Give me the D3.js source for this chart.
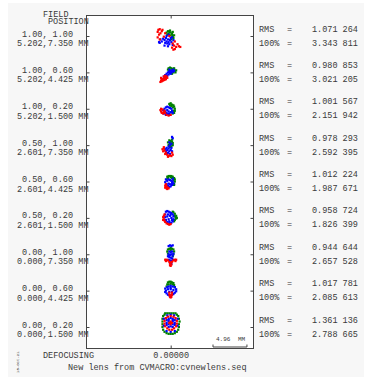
<!DOCTYPE html>
<html>
<head>
<meta charset="utf-8">
<script src="https://cdn.jsdelivr.net/npm/d3@7"></script>
<style>
  body { margin: 0; background: #fff; }
  text { font-family: "Liberation Mono", "DejaVu Sans Mono", monospace; fill: #3a3a3a; }
</style>
</head>
<body>
<div id="spot"></div>
<script>
// field rows (relative field, field in mm) and the spot statistics
var fieldRel = ["1.00, 1.00", "1.00, 0.60", "1.00, 0.20",
                "0.50, 1.00", "0.50, 0.60", "0.50, 0.20",
                "0.00, 1.00", "0.00, 0.60", "0.00, 0.20"];
var fieldMM = ["5.202,7.350", "5.202,4.425", "5.202,1.500",
               "2.601,7.350", "2.601,4.425", "2.601,1.500",
               "0.000,7.350", "0.000,4.425", "0.000,1.500"];
var rmsVals = [1.071264, 0.980853, 1.001567, 0.978293, 1.012224, 0.958724, 0.944644, 1.017781, 1.361136];
var pct100Vals = [3.343811, 3.021205, 2.151942, 2.592395, 1.987671, 1.826399, 2.657528, 2.085613, 2.788665];
var scaleBarLen = 4.96;
var defocus = 0;

// ray intercepts per field, [x, y] in mm relative to the field's reference point
var spotsGreen = [
  [[-0.6,0.5],[-0.4,0.7],[-0.2,0.6],[0.0,0.5],[0.2,0.3],[0.3,0.0],[0.4,-0.3],[0.1,-0.5],[-0.3,0.3],[0.0,0.1],[0.2,-0.2],[-0.5,0.2],[0.5,0.1],[0.3,0.6],[-0.1,0.8]],
  [[-0.3,0.6],[-0.1,0.7],[0.1,0.6],[0.3,0.5],[0.5,0.4],[0.6,0.2],[0.7,0.0],[0.4,0.0],[0.2,-0.2],[-0.4,0.4],[0.0,0.3],[0.8,0.3],[0.5,0.6],[-0.2,0.2]],
  [[-0.2,0.7],[0.0,0.8],[0.2,0.6],[0.4,0.5],[0.5,0.3],[0.6,0.0],[0.6,-0.3],[0.5,-0.6],[0.3,-0.7],[0.1,-0.5],[0.3,0.2],[0.1,0.4],[-0.1,0.5],[0.4,-0.3]],
  [[-0.2,0.7],[0.0,0.6],[0.2,0.5],[0.3,0.3],[0.3,0.0],[0.1,-0.2],[-0.1,-0.3],[-0.3,0.0],[-0.1,0.3],[0.2,0.8],[0.1,0.1],[-0.4,0.4]],
  [[-0.5,0.7],[-0.3,0.8],[-0.1,0.8],[0.1,0.8],[0.3,0.7],[0.5,0.5],[0.6,0.3],[0.6,0.0],[0.5,-0.3],[-0.4,0.5],[0.4,0.2],[0.2,0.5],[0.0,0.6],[-0.6,0.3],[0.5,-0.5]],
  [[0.5,0.3],[0.7,0.1],[0.8,-0.1],[0.6,-0.3],[0.8,0.3],[0.6,0.6],[0.4,0.8],[0.5,-0.5],[0.3,0.9],[0.9,0.0]],
  [[-0.4,0.7],[-0.2,0.8],[0.0,0.9],[0.2,0.8],[0.4,0.7],[-0.5,0.4],[0.5,0.4],[-0.4,0.1],[0.4,0.0],[-0.3,-0.2],[0.3,-0.3],[0.0,0.6]],
  [[-0.4,1.2],[-0.2,1.3],[0.0,1.3],[0.2,1.2],[0.4,1.1],[-0.5,0.9],[0.5,0.8],[-0.6,0.6],[0.6,0.5],[-0.3,0.9],[0.3,0.9],[0.0,1.0]],
  [[-0.8,2.0],[-0.5,2.0],[-0.2,2.0],[0.1,2.0],[0.4,2.0],[0.7,2.0],[-1.1,1.6],[-1.2,1.2],[-1.2,0.8],[-1.2,0.4],[-1.2,0.0],[-1.1,-0.4],[-0.9,-0.7],
   [1.1,1.6],[1.2,1.2],[1.3,0.8],[1.2,0.4],[1.2,0.0],[1.1,-0.4],[0.9,-0.7],[-0.6,-0.9],[-0.3,-1.0],[0.0,-1.0],[0.3,-1.0],[0.6,-0.9],[-0.9,1.8],[0.9,1.8]]
];
var spotsBlue = [
  [[-1.1,-0.4],[-0.9,-0.6],[-0.7,-0.3],[-0.6,-0.8],[-0.4,-0.5],[-0.3,-0.9],[-0.1,-0.6],[0.0,-0.3],[-0.5,-1.1],[-0.2,-1.2],[0.1,-0.9],[-0.8,-1.0],[-1.3,-0.8],[-1.5,-0.5],[-0.6,0.0],[-0.3,0.2],[0.2,-0.2],[0.4,-0.6],[-0.9,-1.4],[-0.4,-1.5],[0.3,-1.3],[-1.6,-1.0],[-1.7,-0.9]],
  [[-1.0,-0.6],[-0.8,-0.4],[-0.6,-0.2],[-0.4,0.0],[-0.2,0.1],[0.0,0.2],[0.2,0.3],[-0.5,-0.5],[-0.3,-0.3],[-0.1,-0.1],[0.1,0.0],[-0.7,-0.7],[0.3,0.1],[0.4,0.4],[-0.2,0.4],[0.5,0.2],[-0.9,-0.9],[0.0,-0.2]],
  [[-1.1,-0.2],[-0.9,0.0],[-0.7,0.2],[-0.5,0.3],[-0.3,0.2],[-0.1,0.1],[0.1,0.0],[0.2,-0.3],[0.0,-0.5],[-0.2,-0.7],[-0.4,-0.8],[-0.6,-0.6],[-0.8,-0.4],[-0.5,-0.2],[-0.3,-0.4],[-0.7,-0.9],[-1.0,-0.7],[-0.1,-0.9],[0.3,-0.6]],
  [[0.2,1.2],[0.3,1.0],[-0.2,0.4],[-0.1,0.0],[0.1,-0.4],[-0.3,-0.5],[-0.5,-0.7],[-0.7,-0.9],[-0.4,-1.1],[-0.2,-0.9],[0.0,-0.7],[0.2,-0.9],[-0.6,-0.4],[-0.3,-0.2],[-0.1,-1.3],[-0.5,-1.3],[0.1,0.2],[-0.8,-0.6]],
  [[-0.7,0.3],[-0.5,0.1],[-0.3,0.3],[-0.1,0.2],[0.1,0.1],[0.3,0.0],[0.4,-0.3],[0.2,-0.5],[0.0,-0.7],[-0.2,-0.8],[-0.4,-0.6],[-0.6,-0.4],[-0.8,-0.1],[-0.3,-0.3],[-0.1,-0.4],[0.2,-0.2],[-0.5,-0.8],[0.3,0.4]],
  [[-0.7,0.9],[-0.5,1.0],[-0.3,0.9],[-0.1,0.8],[0.1,0.7],[0.3,0.5],[0.4,0.2],[0.4,-0.2],[0.3,-0.5],[0.1,-0.7],[-0.1,-0.8],[-0.3,-0.8],[-0.5,-0.6],[-0.7,-0.3],[-0.8,0.1],[-0.8,0.5],[-0.4,0.5],[-0.1,0.3],[0.1,0.0],[-0.3,-0.2],[-0.5,0.2],[0.2,-0.3],[0.0,0.5],[-0.2,-0.5]],
  [[-0.3,1.2],[-0.1,1.3],[0.1,1.2],[0.3,1.3],[-0.2,0.4],[0.0,0.3],[0.2,0.4],[-0.3,0.0],[-0.1,-0.1],[0.1,0.0],[0.3,-0.2],[-0.2,-0.4],[0.0,-0.5],[0.2,-0.6],[-0.3,-0.8],[-0.1,-0.9],[0.1,-1.0],[0.3,-0.8],[-0.1,-1.3],[0.1,-1.4],[0.4,0.1],[-0.4,-0.3]],
  [[-0.8,0.3],[-0.7,0.0],[-0.8,-0.2],[-0.6,-0.4],[-0.4,-0.6],[-0.2,-0.7],[0.0,-0.7],[0.2,-0.6],[0.4,-0.5],[0.6,-0.3],[0.8,-0.1],[0.8,0.2],[0.6,0.5],[0.3,0.6],[0.0,0.7],[-0.3,0.6],[-0.5,0.5],[-0.4,0.2],[0.0,0.2],[0.4,0.1],[-0.2,-0.2],[0.2,-0.2],[0.0,0.4]],
  [[-0.6,1.0],[-0.3,1.2],[0.0,1.3],[0.3,1.2],[0.6,1.0],[-0.6,0.6],[-0.3,0.8],[0.3,0.8],[0.6,0.6],[-0.6,0.3],[-0.3,0.4],[0.3,0.4],[0.6,0.3],[-0.3,0.0],[0.0,0.1],[0.3,0.0],
   [-1.0,1.2],[1.0,1.2],[-1.0,0.2],[1.0,0.2],[0.0,-0.7],[0.0,1.8],[-0.5,1.7],[0.5,1.7],[-0.6,-0.6],[0.6,-0.6],[-0.3,1.0],[0.3,1.0]]
];
var spotsRed = [
  [[-1.8,0.9],[-1.6,1.0],[-1.9,0.6],[-1.5,0.4],[-1.7,0.2],[-1.3,0.7],[-1.9,-0.2],[-1.6,-0.5],[-1.2,0.9],[0.3,-1.1],[0.5,-1.4],[0.2,-1.7],[0.6,-1.9],[1.2,-1.5],[1.0,-1.2],[0.8,-1.6],[0.4,-2.0],[-1.0,-0.1],[-0.2,0.0],[0.6,-0.8],[-0.8,0.4],[1.4,-1.6]],
  [[-1.5,-1.4],[-1.4,-1.2],[-1.3,-1.3],[-1.2,-1.0],[-1.1,-1.2],[-1.0,-0.9],[-0.9,-1.1],[-0.8,-0.8],[-1.3,-1.0],[-0.7,-1.0],[-0.6,-0.6],[-1.0,-0.6],[-0.5,-0.8],[-1.4,-0.8],[-0.8,-0.5]],
  [[-1.5,-0.2],[-1.4,-0.4],[-1.3,-0.6],[-1.2,-0.1],[-1.0,-0.5],[-0.9,-0.3],[-1.4,0.0],[-1.1,-0.7],[-0.8,-0.6],[-0.6,-0.9],[-0.3,-1.0],[0.0,-0.9]],
  [[-1.2,-0.6],[-1.0,-0.5],[-0.9,-0.8],[-1.1,-0.9],[-0.7,-1.1],[-0.5,-1.4],[-0.3,-1.6],[-0.1,-1.5],[0.1,-1.6],[0.3,-1.4],[-0.8,-1.3],[-0.4,-1.7],[-1.0,-0.3],[0.2,-1.1]],
  [[-0.8,-0.6],[-0.7,-0.8],[-0.6,-1.0],[-0.5,-1.1],[-0.7,-0.4],[-0.4,-0.9],[-0.8,-0.9],[-0.3,-1.0],[-0.6,-0.7]],
  [[-1.1,0.1],[-1.0,-0.2],[-0.9,-0.4],[-1.0,0.3],[-0.9,0.5],[-0.8,-0.6],[-0.6,-0.8],[-0.4,-0.9],[-0.2,-1.0],[0.0,-0.9],[-1.1,-0.3]],
  [[-0.8,-0.8],[-0.6,-0.8],[-0.4,-0.9],[0.4,-0.9],[0.6,-0.8],[0.8,-0.8],[-0.7,-1.0],[0.7,-1.0],[-0.2,-1.1],[0.2,-1.1],[-0.1,-1.3],[0.1,-1.5],[0.0,-1.7],[-0.1,-1.6],[0.0,-1.2]],
  [[-0.2,-0.6],[0.0,-0.7],[0.2,-0.6],[-0.1,-0.9],[0.1,-0.9],[0.0,-1.0],[-0.2,-0.3],[0.2,-0.3]],
  [[0.0,1.6],[0.4,1.5],[0.7,1.3],[0.9,0.9],[0.9,0.5],[0.8,0.1],[0.5,-0.2],[0.2,-0.4],[-0.2,-0.4],[-0.5,-0.2],[-0.8,0.1],[-0.9,0.5],[-0.9,0.9],[-0.7,1.3],[-0.4,1.5],
   [0.0,0.6],[0.0,0.8],[0.0,0.4],[-0.2,0.6],[0.2,0.6]]
];

var W = 377, H = 382;
var boxL = 86.5, boxR = 253.5, boxT = 15.5, boxB = 348.5;

var svg = d3.select("#spot").append("svg")
    .attr("width", W)
    .attr("height", H);

// faint grey page behind the plot, white plot box
svg.append("rect").attr("x", 8).attr("y", 3).attr("width", 356).attr("height", 374).attr("fill", "#f7f7f7");
svg.append("rect").attr("x", boxL).attr("y", boxT).attr("width", boxR - boxL).attr("height", boxB - boxT)
    .attr("fill", "#fff").attr("stroke", "#444").attr("stroke-width", 1);

// scales: x in mm about the defocus position, rows by field
var x = d3.scaleLinear().domain([-12.3, 12.1]).range([boxL, boxR]);
var pxPerMM = x(1) - x(0);
var row = d3.scalePoint().domain(d3.range(fieldRel.length)).range([36, 327]);
var yOff = d3.scaleLinear().domain([-1, 1]).range([pxPerMM, -pxPerMM]);

// top / bottom ticks at the defocus value
svg.append("g")
    .attr("transform", "translate(0," + boxT + ")")
    .call(d3.axisTop(x).tickValues([defocus]).tickSize(-3).tickFormat(""))
    .call(function(g) { g.select(".domain").remove(); g.selectAll("line").attr("stroke", "#444"); });
svg.append("g")
    .attr("class", "xb")
    .attr("transform", "translate(0," + boxB + ")")
    .call(d3.axisBottom(x).tickValues([defocus]).tickSize(-3).tickPadding(3).tickFormat(d3.format(".5f")))
    .call(function(g) {
      g.select(".domain").remove();
      g.selectAll("line").attr("stroke", "#444");
      g.selectAll("text").attr("font-family", null).attr("font-size", null).style("font-size", "8.5px");
    });

// row ticks on both sides
svg.append("g")
    .attr("transform", "translate(" + boxL + ",0)")
    .call(d3.axisRight(row).tickSize(3).tickFormat(""))
    .call(function(g) { g.select(".domain").remove(); g.selectAll("line").attr("stroke", "#444"); });
svg.append("g")
    .attr("transform", "translate(" + boxR + ",0)")
    .call(d3.axisLeft(row).tickSize(3).tickFormat(""))
    .call(function(g) { g.select(".domain").remove(); g.selectAll("line").attr("stroke", "#444"); });

// spots
var dot = 2.2;
var colors = [["#008000", spotsGreen], ["#0000ff", spotsBlue], ["#ff0000", spotsRed]];
var rows = svg.selectAll("g.row")
  .data(d3.range(fieldRel.length))
  .enter()
  .append("g")
    .attr("class", "row")
    .attr("transform", function(i) { return "translate(0," + row(i) + ")"; });

colors.forEach(function(c) {
  rows.selectAll("rect.c" + c[0].slice(1))
    .data(function(i) { return c[1][i]; })
    .enter()
    .append("rect")
      .attr("x", function(d) { return x(d[0]) - dot / 2; })
      .attr("y", function(d) { return yOff(d[1]) - dot / 2; })
      .attr("width", dot)
      .attr("height", dot)
      .attr("fill", c[0]);
});

// field labels on the left
var fs = "8.5px";
svg.append("text").attr("x", 43).attr("y", 17).style("font-size", fs).text("FIELD");
svg.append("text").attr("x", 48).attr("y", 24).style("font-size", fs).text("POSITION");

svg.selectAll("text.rel")
  .data(fieldRel)
  .enter()
  .append("text")
    .attr("text-anchor", "end")
    .attr("x", 73)
    .attr("y", function(d, i) { return row(i) + 0.5; })
    .style("font-size", fs)
    .text(function(d) { return d; });

svg.selectAll("text.mm")
  .data(fieldMM)
  .enter()
  .append("text")
    .attr("text-anchor", "end")
    .attr("x", 88.5)
    .attr("y", function(d, i) { return row(i) + 10; })
    .style("font-size", fs)
    .text(function(d) { return d + " MM"; });

// stats on the right
function fmt(v) {
  var s = v.toFixed(6);
  return s.slice(0, s.length - 3) + " " + s.slice(s.length - 3);
}
[["RMS", rmsVals, -4.5], ["100%", pct100Vals, 9.5]].forEach(function(st) {
  var g = svg.append("g");
  st[1].forEach(function(v, i) {
    var yy = row(i) + st[2];
    g.append("text").attr("x", 259).attr("y", yy).style("font-size", fs).text(st[0]);
    g.append("text").attr("x", 287).attr("y", yy).style("font-size", fs).text("=");
    g.append("text").attr("x", 312).attr("y", yy).style("font-size", fs).text(fmt(v));
  });
});

// scale bar
var sb = svg.append("g").attr("stroke", "#444").attr("stroke-width", 1);
var sbX0 = 213, sbX1 = sbX0 + (x(scaleBarLen) - x(0)), sbY = 347;
sb.append("line").attr("x1", sbX0).attr("x2", sbX1).attr("y1", sbY).attr("y2", sbY);
sb.append("line").attr("x1", sbX0).attr("x2", sbX0).attr("y1", sbY - 2.5).attr("y2", sbY);
sb.append("line").attr("x1", sbX1).attr("x2", sbX1).attr("y1", sbY - 2.5).attr("y2", sbY);
svg.append("text").attr("x", sbX0 + 3).attr("y", 341).style("font-size", "6px").text(scaleBarLen.toFixed(2));
svg.append("text").attr("x", sbX1 - 9).attr("y", 341).style("font-size", "6px").text("MM");

// bottom captions
svg.append("text").attr("x", 43).attr("y", 358).style("font-size", fs).text("DEFOCUSING");
svg.append("text").attr("x", 68).attr("y", 370).style("font-size", fs).text("New lens from CVMACRO:cvnewlens.seq");
svg.append("text")
    .attr("transform", "translate(19,373) rotate(-90)")
    .style("font-size", "4px")
    .text("15-Oct-21");
</script>
</body>
</html>
